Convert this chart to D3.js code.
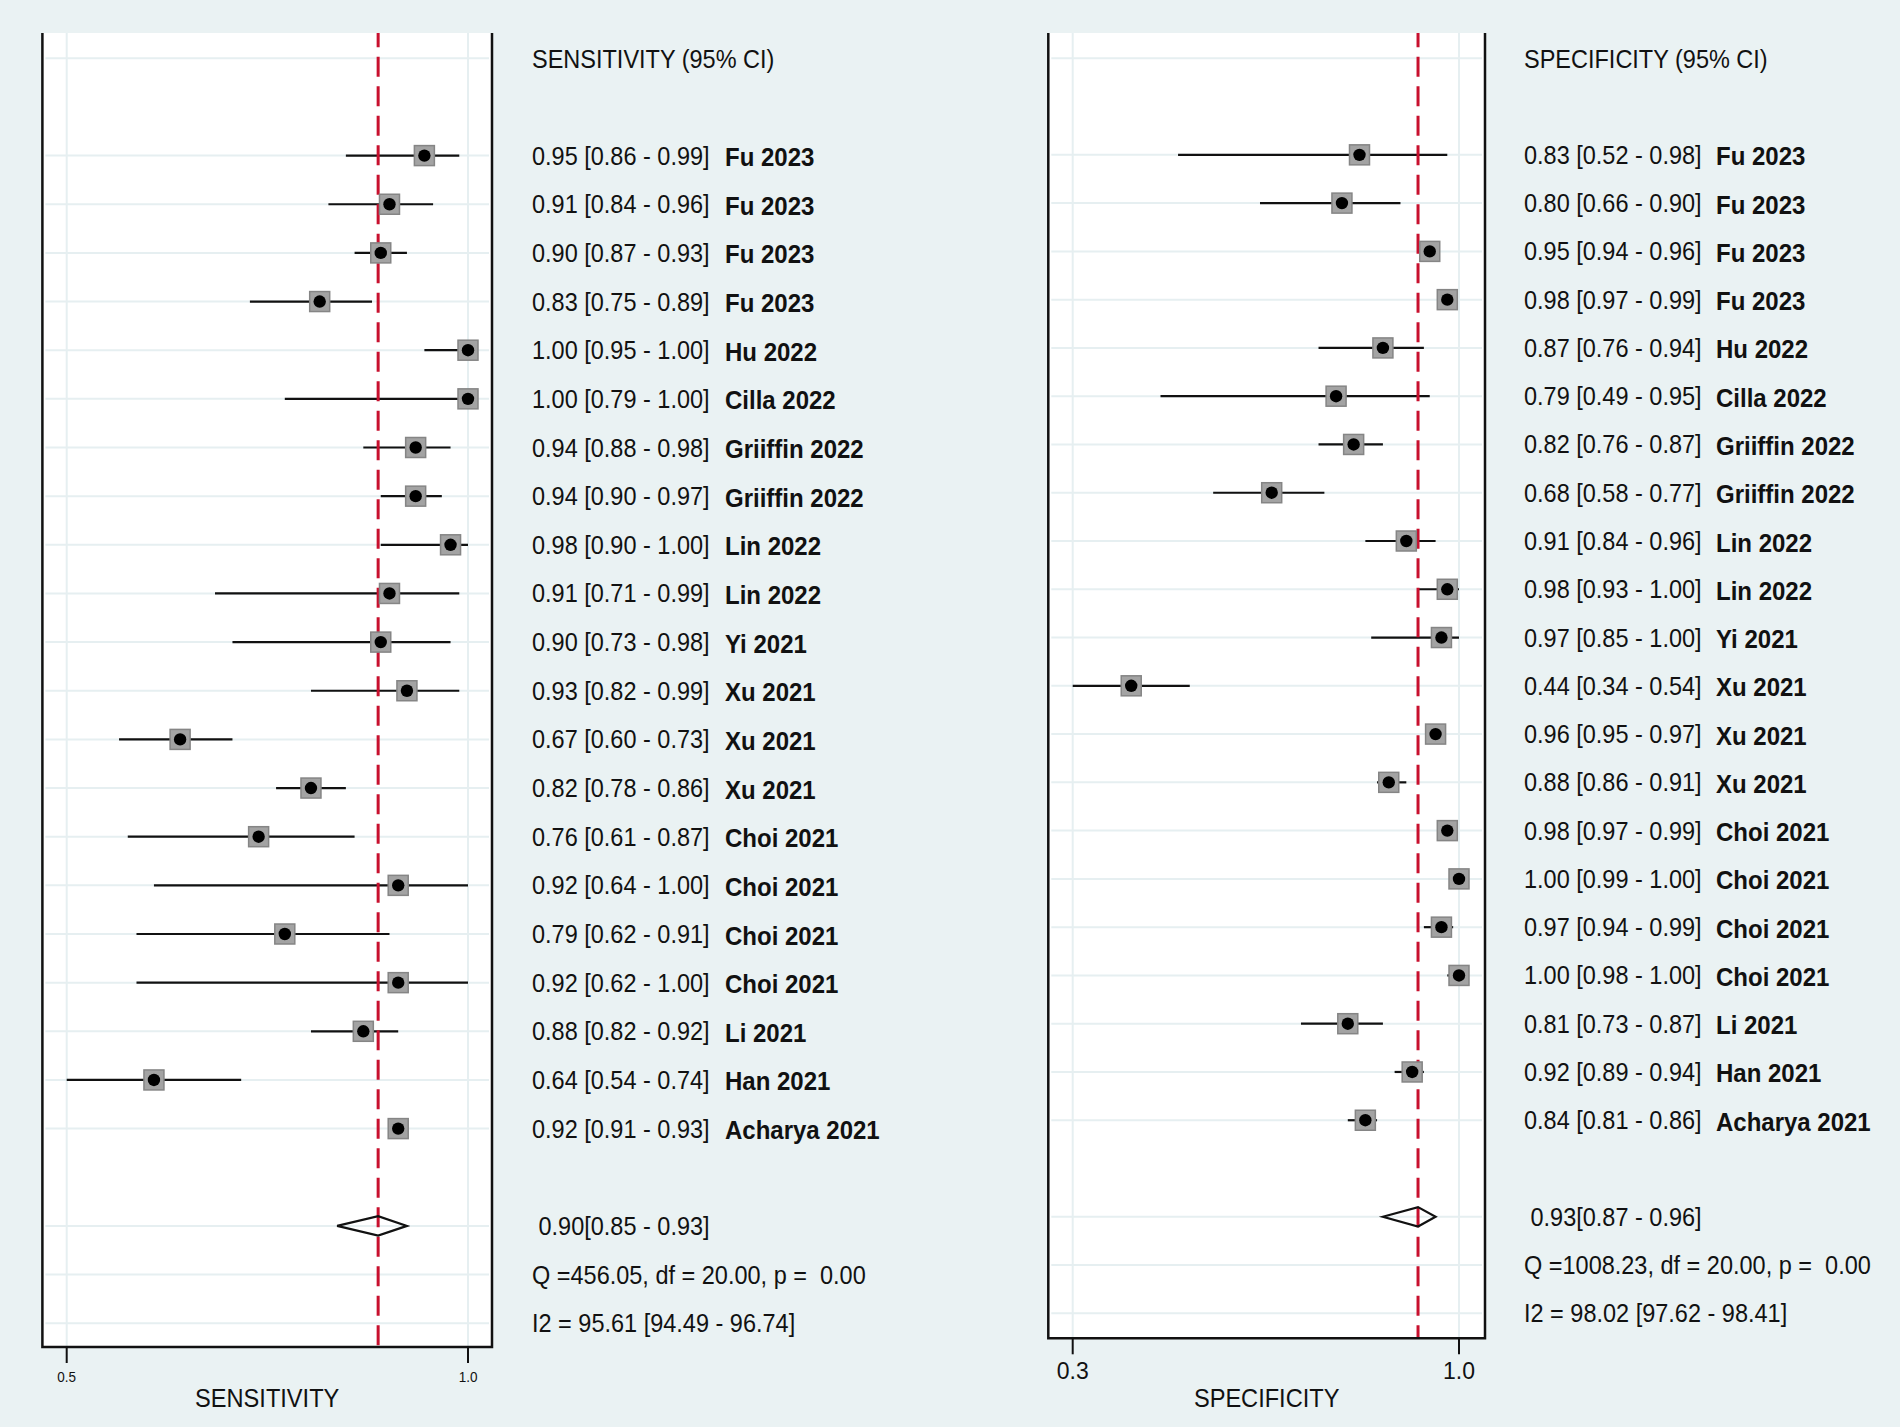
<!DOCTYPE html>
<html>
<head>
<meta charset="utf-8">
<script src="https://cdn.jsdelivr.net/npm/d3@7"></script>
<style>
  html, body { margin: 0; padding: 0; background: #eaf2f3; }
  svg { display: block; }
  text { font-family: "Liberation Sans", Arial, Helvetica, sans-serif; fill: #111; white-space: pre; }
</style>
</head>
<body>
<svg id="chart" width="1900" height="1427"></svg>
<script>
// ---------------- DATA ----------------
const studies = ["Fu 2023","Fu 2023","Fu 2023","Fu 2023","Hu 2022","Cilla 2022","Griiffin 2022","Griiffin 2022",
  "Lin 2022","Lin 2022","Yi 2021","Xu 2021","Xu 2021","Xu 2021","Choi 2021","Choi 2021","Choi 2021","Choi 2021",
  "Li 2021","Han 2021","Acharya 2021"];

const sensEst = [0.95,0.91,0.90,0.83,1.00,1.00,0.94,0.94,0.98,0.91,0.90,0.93,0.67,0.82,0.76,0.92,0.79,0.92,0.88,0.64,0.92];
const sensLo  = [0.86,0.84,0.87,0.75,0.95,0.79,0.88,0.90,0.90,0.71,0.73,0.82,0.60,0.78,0.61,0.64,0.62,0.62,0.82,0.54,0.91];
const sensHi  = [0.99,0.96,0.93,0.89,1.00,1.00,0.98,0.97,1.00,0.99,0.98,0.99,0.73,0.86,0.87,1.00,0.91,1.00,0.92,0.74,0.93];

const specEst = [0.83,0.80,0.95,0.98,0.87,0.79,0.82,0.68,0.91,0.98,0.97,0.44,0.96,0.88,0.98,1.00,0.97,1.00,0.81,0.92,0.84];
const specLo  = [0.52,0.66,0.94,0.97,0.76,0.49,0.76,0.58,0.84,0.93,0.85,0.34,0.95,0.86,0.97,0.99,0.94,0.98,0.73,0.89,0.81];
const specHi  = [0.98,0.90,0.96,0.99,0.94,0.95,0.87,0.77,0.96,1.00,1.00,0.54,0.97,0.91,0.99,1.00,0.99,1.00,0.87,0.94,0.86];

const sensPooled = [0.897, 0.85, 0.93];   // estimate, lower, upper
const specPooled = [0.93, 0.87, 0.96];

const sensStats = ["Q =456.05, df = 20.00, p =  0.00", "I2 = 95.61 [94.49 - 96.74]"];
const specStats = ["Q =1008.23, df = 20.00, p =  0.00", "I2 = 98.02 [97.62 - 98.41]"];

const sensTicks = [0.54, 1.0];   // axis runs from smallest lower limit to 1
const specTicks = [0.34, 1.0];
const tickFmt = d3.format(".1f");

const headers = ["SENSITIVITY (95% CI)", "SPECIFICITY (95% CI)"];
const axisTitles = ["SENSITIVITY", "SPECIFICITY"];

// ---------------- LAYOUT ----------------
const svg = d3.select("#chart");
svg.append("rect").attr("width",1900).attr("height",1427).attr("fill","#eaf2f3");

const panels = [
  { est: sensEst, lo: sensLo, hi: sensHi, pooled: sensPooled, stats: sensStats, ticks: sensTicks,
    header: headers[0], title: axisTitles[0],
    x0: 42.4, x1: 492, top: 33, bottom: 1347, row0: 58.3, step: 48.65, range: [66.7, 468],
    textX: 532, nameX: 725, tickFont: 13.5, tickLabelY: 1381.5, titleY: 1406.5 },
  { est: specEst, lo: specLo, hi: specHi, pooled: specPooled, stats: specStats, ticks: specTicks,
    header: headers[1], title: axisTitles[1],
    x0: 1048.3, x1: 1485, top: 33, bottom: 1338.3, row0: 58.3, step: 48.27, range: [1072.7, 1459],
    textX: 1524, nameX: 1716, tickFont: 23, tickLabelY: 1379, titleY: 1406.5 }
];

const f2 = v => v.toFixed(2);
const SY = 1.07; // slight vertical stretch seen in the reference typography
const place = (sel, fx, fy) => sel.attr("transform", (d, i) => `translate(${fx(d, i)},${fy(d, i)}) scale(1,${SY})`);

panels.forEach(p => {
  const x = d3.scaleLinear().domain([p.ticks[0], p.ticks[1]]).range(p.range);
  const y = d3.scaleLinear().domain([0, 26]).range([p.row0, p.row0 + 26 * p.step]);
  const g = svg.append("g");

  // plot area
  g.append("rect").attr("x", p.x0).attr("y", p.top)
    .attr("width", p.x1 - p.x0).attr("height", p.bottom - p.top).attr("fill", "#ffffff");

  // gridlines
  const rowsWithContent = [0].concat(d3.range(2, 23), [24, 25, 26]);
  g.selectAll(".hg").data(rowsWithContent).join("line")
    .attr("x1", p.x0 + 3).attr("x2", p.x1 - 3)
    .attr("y1", d => y(d)).attr("y2", d => y(d))
    .attr("stroke", "#e6eff1").attr("stroke-width", 2);
  g.selectAll(".vg").data(p.ticks).join("line")
    .attr("x1", d => x(d)).attr("x2", d => x(d))
    .attr("y1", p.top).attr("y2", p.bottom)
    .attr("stroke", "#e6eff1").attr("stroke-width", 2);

  // CI lines
  const idx = d3.range(p.est.length);
  g.selectAll(".ci").data(idx).join("line")
    .attr("x1", i => x(p.lo[i])).attr("x2", i => x(p.hi[i]))
    .attr("y1", i => y(i + 2)).attr("y2", i => y(i + 2))
    .attr("stroke", "#111").attr("stroke-width", 2.2);

  // pooled reference line
  g.append("line")
    .attr("x1", x(p.pooled[0])).attr("x2", x(p.pooled[0]))
    .attr("y1", p.top).attr("y2", p.bottom)
    .attr("stroke", "#c8102e").attr("stroke-width", 3)
    .attr("stroke-dasharray", "20 9.5").attr("stroke-dashoffset", 5.7);

  // markers
  g.selectAll(".sq").data(idx).join("rect")
    .attr("x", i => x(p.est[i]) - 10).attr("y", i => y(i + 2) - 10)
    .attr("width", 20).attr("height", 20)
    .attr("fill", "#a3a3a3").attr("stroke", "#858585").attr("stroke-width", 1.5);
  g.selectAll(".dot").data(idx).join("circle")
    .attr("cx", i => x(p.est[i])).attr("cy", i => y(i + 2)).attr("r", 6.2)
    .attr("fill", "#000");

  // pooled diamond
  const yd = y(24), h = 9.7;
  g.append("path")
    .attr("d", `M${x(p.pooled[1])},${yd} L${x(p.pooled[0])},${yd - h} L${x(p.pooled[2])},${yd} L${x(p.pooled[0])},${yd + h} Z`)
    .attr("fill", "none").attr("stroke", "#111").attr("stroke-width", 2.2).attr("stroke-linejoin", "miter");

  // box borders (left, right, bottom)
  g.append("path")
    .attr("d", `M${p.x0},${p.top} L${p.x0},${p.bottom} L${p.x1},${p.bottom} L${p.x1},${p.top}`)
    .attr("fill", "none").attr("stroke", "#111").attr("stroke-width", 2.5);

  // axis ticks
  g.selectAll(".tk").data(p.ticks).join("line")
    .attr("x1", d => x(d)).attr("x2", d => x(d))
    .attr("y1", p.bottom).attr("y2", p.bottom + 16)
    .attr("stroke", "#111").attr("stroke-width", 2);
  g.selectAll(".tl").data(p.ticks).join("text")
    .attr("text-anchor", "middle").attr("font-size", p.tickFont)
    .call(place, d => x(d), () => p.tickLabelY)
    .text(d => tickFmt(Math.floor(d * 10) / 10));
  g.append("text")
    .attr("text-anchor", "middle").attr("font-size", 23.6)
    .call(place, () => (p.x0 + p.x1) / 2, () => p.titleY)
    .text(p.title);

  // right-hand text
  const fs = 23.5;
  g.append("text").attr("font-size", fs)
    .call(place, () => p.textX, () => y(0) + 9.5).text(p.header);
  g.selectAll(".vt").data(idx).join("text")
    .attr("font-size", fs)
    .call(place, () => p.textX, i => y(i + 2) + 9)
    .text(i => `${f2(p.est[i])} [${f2(p.lo[i])} - ${f2(p.hi[i])}]`);
  g.selectAll(".nt").data(idx).join("text")
    .attr("font-size", 24).attr("font-weight", "bold")
    .call(place, () => p.nameX, i => y(i + 2) + 10.5)
    .text(i => studies[i]);
  g.append("text").attr("font-size", fs)
    .call(place, () => p.textX, () => y(24) + 9)
    .text(` ${f2(p.pooled[0])}[${f2(p.pooled[1])} - ${f2(p.pooled[2])}]`);
  g.selectAll(".st").data(p.stats).join("text")
    .attr("font-size", fs)
    .call(place, () => p.textX, (d, i) => y(25 + i) + 9)
    .text(d => d);
});
</script>
</body>
</html>
